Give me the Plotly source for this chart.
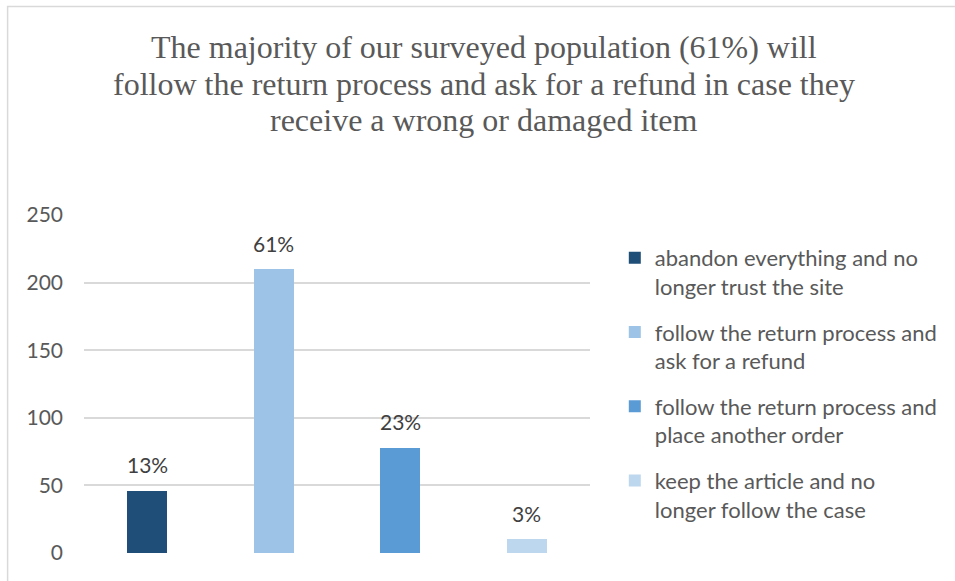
import plotly.graph_objects as go

# Survey responses: what people do after receiving a wrong or damaged item
categories = [
    "abandon everything and no<br>longer trust the site",
    "follow the return process and<br>ask for a refund",
    "follow the return process and<br>place another order",
    "keep the article and no<br>longer follow the case",
]
counts = [46, 210, 78, 10]
colors = ["#1F4E79", "#9DC3E6", "#5B9BD5", "#BDD7EE"]
y_ticks = [0, 50, 100, 150, 200, 250]

title_lines = [
    "The majority of our surveyed population (61%) will",
    "follow the return process and ask for a refund in case they",
    "receive a wrong or damaged item",
]

total = sum(counts)
shares = [f"{round(100 * c / total)}%" for c in counts]

# Plot area in pixels (left/right/top/bottom) used to place paper-referenced items
PX_L, PX_R, PX_T, PX_B = 84, 594, 215, 553


def px_x(x):
    return (x - PX_L) / (PX_R - PX_L)


def px_y(y):
    return (PX_B - y) / (PX_B - PX_T)


fig = go.Figure()
for i, (name, val, col) in enumerate(zip(categories, counts, colors)):
    fig.add_trace(
        go.Bar(
            x=[i],
            y=[val],
            name=name,
            legendgroup=f"g{i}",
            marker=dict(color=col, line=dict(width=0)),
            width=0.315,
            hoverinfo="skip",
        )
    )

# Percentage labels above each bar
for i, (val, txt) in enumerate(zip(counts, shares)):
    fig.add_annotation(
        x=i, y=val, xref="x", yref="y",
        text=txt, showarrow=False,
        yanchor="middle", yshift=26,
        font=dict(family="Lato", size=21, color="#404040"),
    )

# Three-line chart title, set with tight line spacing
for line, yc in zip(title_lines, [47, 84, 120]):
    fig.add_annotation(
        x=px_x(487), y=px_y(yc), xref="paper", yref="paper",
        text=line, showarrow=False,
        xanchor="center", yanchor="middle",
        font=dict(family="Liberation Serif", size=32, color="#595959"),
    )

# Light frame around the chart area
fig.add_shape(
    type="rect", xref="paper", yref="paper",
    x0=px_x(7), x1=2.0,
    y0=-1.0, y1=px_y(6.5),
    line=dict(color="#D9D9D9", width=1.5),
    fillcolor="rgba(0,0,0,0)",
    layer="below",
)

fig.update_layout(
    width=955,
    height=581,
    margin=dict(l=PX_L, r=955 - PX_R, t=PX_T, b=581 - PX_B),
    paper_bgcolor="white",
    plot_bgcolor="white",
    xaxis=dict(
        range=[-0.5, 3.5],
        showticklabels=False,
        showgrid=False,
        zeroline=False,
        showline=False,
        ticks="",
    ),
    yaxis=dict(
        range=[0, 250],
        tickvals=y_ticks,
        showgrid=True,
        gridcolor="#D9D9D9",
        gridwidth=1.5,
        zeroline=False,
        showline=False,
        ticks="",
        ticklabelstandoff=20,
        tickfont=dict(family="Lato", size=21, color="#595959"),
    ),
    legend=dict(
        x=px_x(619), xanchor="left",
        y=px_y(237), yanchor="top",
        traceorder="grouped",
        tracegroupgap=14,
        valign="top",
        font=dict(family="Lato", size=22, color="#595959"),
        bgcolor="rgba(0,0,0,0)",
    ),
    showlegend=True,
    bargap=0.0,
)

fig.write_html("out.html")
